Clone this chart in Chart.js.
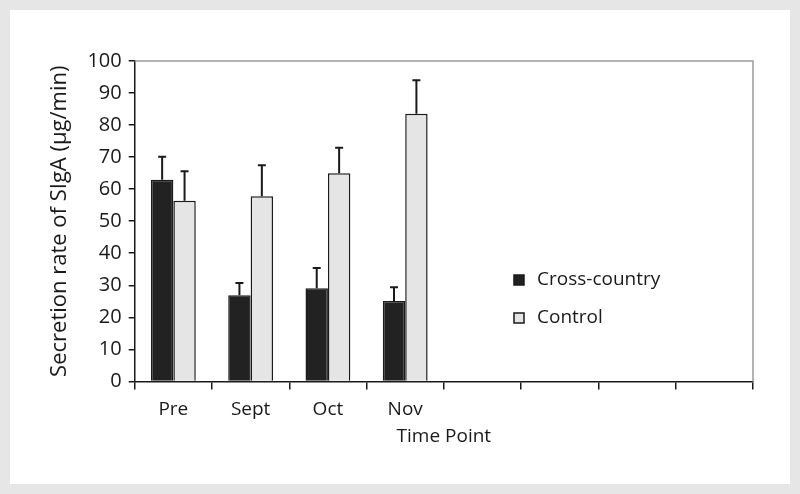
<!DOCTYPE html>
<html>
<head>
<meta charset="utf-8">
<script src="https://cdn.jsdelivr.net/npm/chart.js@4"></script>
<style>
    html, body { margin: 0; padding: 0; background: #e6e6e6; }
    #wrap { position: absolute; left: 10px; top: 10px; width: 780px; height: 474px; background: #fff; }
</style>
</head>
<body>
<div id="wrap"><canvas id="sigaChart"></canvas></div>
<script>
const categories = ['Pre', 'Sept', 'Oct', 'Nov', '', '', '', ''];
const crossCountry = [62.9, 26.9, 29.1, 25.1];
const crossCountryErr = [7.2, 3.8, 6.3, 4.3];
const control = [56.4, 57.8, 65.0, 83.5];
const controlErr = [9.2, 9.7, 7.9, 10.5];
const yTicks = [0, 10, 20, 30, 40, 50, 60, 70, 80, 90, 100];

const fontFamily = '"Open Sans", "Noto Sans", sans-serif';

// error bars, upward only, with a short cap
const errorBars = {
    id: 'errorBars',
    afterDatasetsDraw(chart) {
        const ctx = chart.ctx;
        const y = chart.scales.y;
        ctx.save();
        ctx.strokeStyle = '#1a1a1a';
        ctx.lineWidth = 2;
        chart.data.datasets.forEach((ds, di) => {
            const meta = chart.getDatasetMeta(di);
            meta.data.forEach((bar, i) => {
                if (ds.data[i] == null) return;
                const top = y.getPixelForValue(ds.data[i] + ds.errors[i]);
                ctx.beginPath();
                ctx.moveTo(bar.x, bar.y);
                ctx.lineTo(bar.x, top);
                ctx.moveTo(bar.x - 4, top);
                ctx.lineTo(bar.x + 4, top);
                ctx.stroke();
            });
        });
        ctx.restore();
    }
};

// grey frame on top and right of the plot, plus legend inside the plot
const frameAndLegend = {
    id: 'frameAndLegend',
    afterDraw(chart) {
        const ctx = chart.ctx;
        const a = chart.chartArea;
        ctx.save();
        ctx.strokeStyle = '#9a9a9a';
        ctx.lineWidth = 1.5;
        ctx.beginPath();
        ctx.moveTo(a.left, a.top);
        ctx.lineTo(a.right, a.top);
        ctx.lineTo(a.right, a.bottom);
        ctx.stroke();

        const x0 = 504;
        const rows = [270, 308];
        ctx.font = '19px ' + fontFamily;
        ctx.textBaseline = 'middle';
        chart.data.datasets.forEach((ds, i) => {
            const yy = rows[i];
            ctx.fillStyle = ds.backgroundColor;
            ctx.fillRect(x0, yy - 5, 10, 10);
            ctx.strokeStyle = '#1a1a1a';
            ctx.lineWidth = 1.5;
            ctx.strokeRect(x0, yy - 5, 10, 10);
            ctx.fillStyle = '#1a1a1a';
            ctx.fillText(ds.label, x0 + 23, yy);
        });
        ctx.restore();
    }
};

new Chart(document.getElementById('sigaChart'), {
    type: 'bar',
    data: {
        labels: categories,
        datasets: [
            {
                label: 'Cross-country',
                data: crossCountry,
                errors: crossCountryErr,
                backgroundColor: '#222222',
                borderColor: '#1a1a1a',
                borderWidth: 1.5,
                categoryPercentage: 0.58,
                barPercentage: 1.0
            },
            {
                label: 'Control',
                data: control,
                errors: controlErr,
                backgroundColor: '#e5e5e5',
                borderColor: '#1a1a1a',
                borderWidth: 1.5,
                categoryPercentage: 0.58,
                barPercentage: 1.0
            }
        ]
    },
    options: {
        responsive: true,
        maintainAspectRatio: false,
        animation: false,
        layout: { padding: { top: 51, right: 37, bottom: 36, left: 33 } },
        plugins: {
            legend: { display: false },
            tooltip: { enabled: false }
        },
        scales: {
            x: {
                grid: { offset: true, drawOnChartArea: false, tickLength: 8, color: '#1a1a1a', lineWidth: 1.5 },
                border: { color: '#1a1a1a', width: 1.5 },
                ticks: { color: '#1a1a1a', font: { family: fontFamily, size: 19 }, padding: 9, maxRotation: 0, autoSkip: false },
                title: { display: true, text: 'Time Point', color: '#1a1a1a', font: { family: fontFamily, size: 19 }, padding: { top: -5, bottom: 0 } }
            },
            y: {
                min: 0,
                max: 100,
                afterBuildTicks: (axis) => { axis.ticks = yTicks.map(v => ({ value: v })); },
                grid: { drawOnChartArea: false, tickLength: 6, color: '#1a1a1a', lineWidth: 1.5 },
                border: { color: '#1a1a1a', width: 1.5 },
                ticks: { color: '#1a1a1a', font: { family: fontFamily, size: 20 }, padding: 7 },
                title: { display: true, text: 'Secretion rate of SIgA (µg/min)', color: '#1a1a1a', font: { family: fontFamily, size: 22 }, padding: { bottom: 7 } }
            }
        }
    },
    plugins: [errorBars, frameAndLegend]
});
</script>
</body>
</html>
